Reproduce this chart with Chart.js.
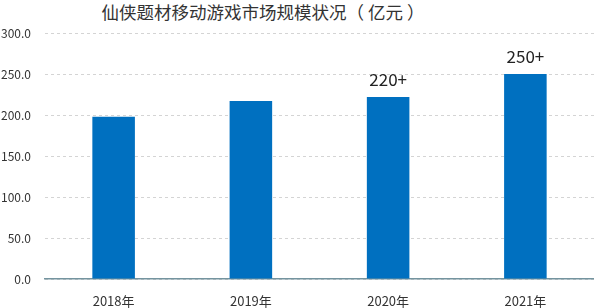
<!DOCTYPE html>
<html>
<head>
<meta charset="utf-8">
<script src="https://cdn.jsdelivr.net/npm/chart.js@4"></script>
<style>
  html, body { margin: 0; padding: 0; background: #fff; }
  #wrap { position: relative; width: 594px; height: 308px; }
  #title {
    position: absolute; left: 0; top: 0; width: 526px;
    text-align: center; font: 17.5px "Noto Sans CJK SC", sans-serif;
    color: #333; line-height: 24px;
  }
  canvas { position: absolute; left: 0; top: 0; }
</style>
</head>
<body>
<div id="wrap">
  <div id="title">仙侠题材移动游戏市场规模状况（ 亿元 ）</div>
  <canvas id="chart" width="594" height="308"></canvas>
</div>
<script>
// ── data ─────────────────────────────────────────── //
const years     = ['2018年', '2019年', '2020年', '2021年'];
const revenue   = [198, 217, 222, 250];
const barLabels = ['', '', '220+', '250+'];

const cjk = '"Noto Sans CJK SC", sans-serif';

// draws the "220+" / "250+" captions above bars
const barLabelPlugin = {
  id: 'barLabels',
  afterDatasetsDraw(chart) {
    const { ctx } = chart;
    const meta = chart.getDatasetMeta(0);
    ctx.save();
    ctx.font = '17px ' + cjk;
    ctx.fillStyle = '#222';
    ctx.textAlign = 'center';
    ctx.textBaseline = 'middle';
    meta.data.forEach((bar, i) => {
      if (barLabels[i]) ctx.fillText(barLabels[i], bar.x, bar.y - 17);
    });
    ctx.restore();
  },
};

new Chart(document.getElementById('chart').getContext('2d'), {
  type: 'bar',
  plugins: [barLabelPlugin],
  data: {
    labels: years,
    datasets: [{
      data: revenue,
      backgroundColor: '#0070c0',
      categoryPercentage: 1,
      barPercentage: 0.31,
    }],
  },
  options: {
    responsive: false,
    animation: false,
    layout: { padding: { top: 33, right: 0, bottom: 0, left: 0 } },
    plugins: {
      legend: { display: false },
      tooltip: { enabled: false },
    },
    scales: {
      x: {
        afterFit(scale) { scale.height = 29; },
        grid: { display: false },
        border: { color: '#74949f', width: 1.5 },
        ticks: { font: { family: cjk, size: 13 }, color: '#333', padding: 6, maxRotation: 0 },
      },
      y: {
        min: 0,
        max: 300,
        afterFit(scale) { scale.width = 45; },
        grid: { color: '#d4d4d4', drawTicks: false },
        border: { display: false, dash: [3, 3] },
        ticks: {
          stepSize: 50,
          padding: 14,
          font: { family: cjk, size: 12 },
          color: '#333',
          callback: v => v.toFixed(1),
        },
      },
    },
  },
});
</script>
</body>
</html>
